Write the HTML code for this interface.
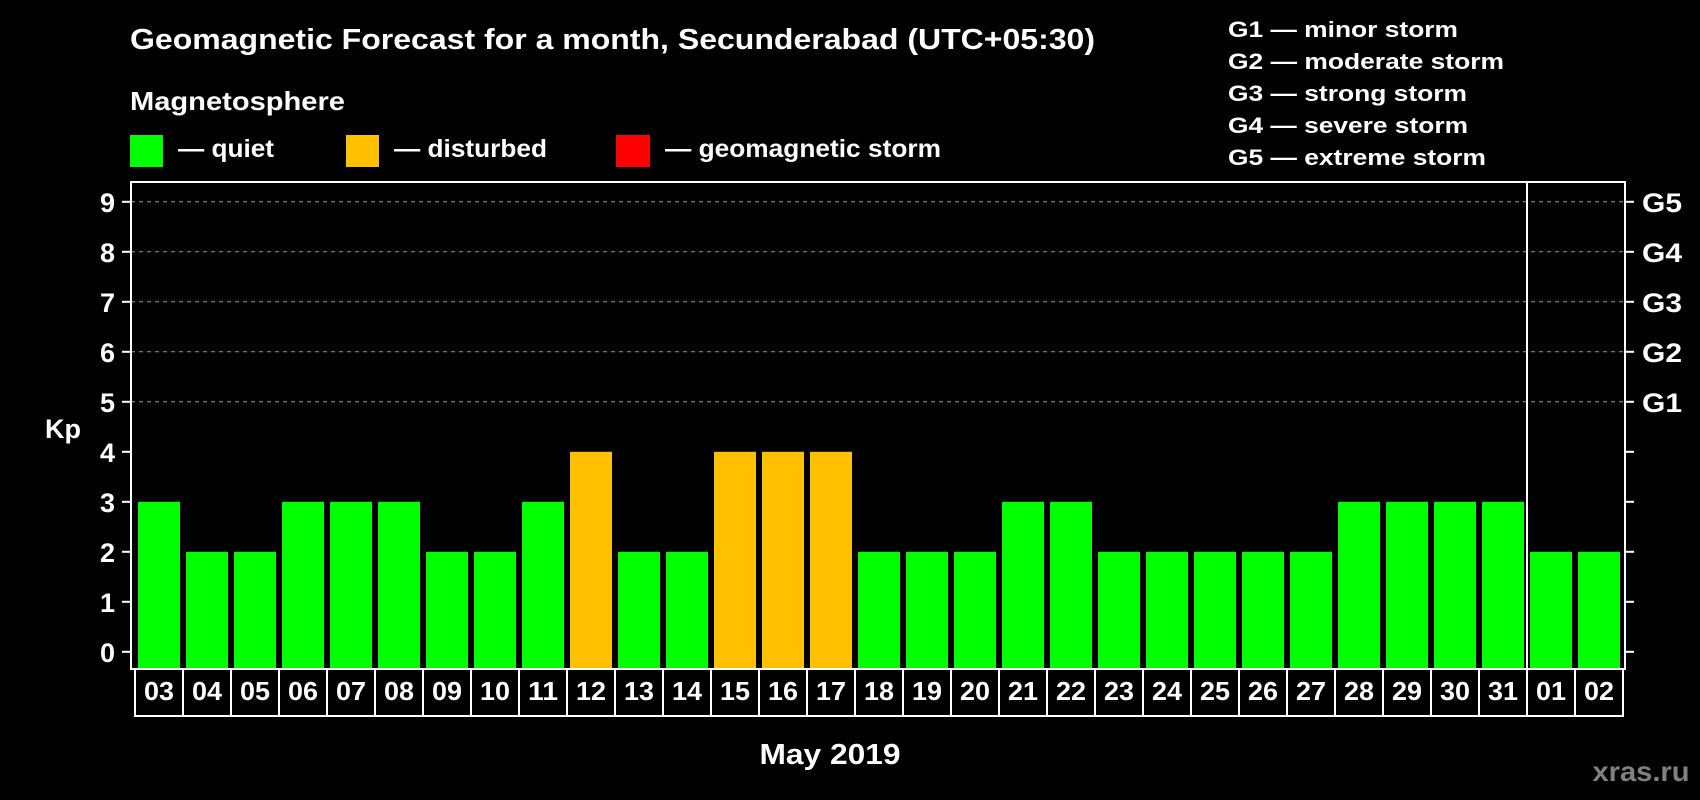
<!DOCTYPE html>
<html><head><meta charset="utf-8"><style>
html,body{margin:0;padding:0;background:#000;}
svg{display:block;font-family:"Liberation Sans",Arial,sans-serif;font-weight:bold;}
</style></head><body>
<svg id="chart" width="1700" height="800" viewBox="0 0 1700 800">
<rect x="0" y="0" width="1700" height="800" fill="#000"/>
<text x="130" y="49" fill="#fff" font-size="29" textLength="965" lengthAdjust="spacingAndGlyphs">Geomagnetic Forecast for a month, Secunderabad (UTC+05:30)</text>
<text x="130" y="110" fill="#fff" font-size="26" textLength="215" lengthAdjust="spacingAndGlyphs">Magnetosphere</text>
<g>
<rect x="130" y="135" width="33" height="32" fill="#00ff00"/>
<text x="178" y="157" fill="#fff" font-size="25" textLength="96" lengthAdjust="spacingAndGlyphs">— quiet</text>
</g>
<g>
<rect x="346" y="135" width="33" height="32" fill="#ffc000"/>
<text x="394" y="157" fill="#fff" font-size="25" textLength="153" lengthAdjust="spacingAndGlyphs">— disturbed</text>
</g>
<g>
<rect x="616" y="135" width="34" height="32" fill="#ff0000"/>
<text x="665" y="157" fill="#fff" font-size="25" textLength="276" lengthAdjust="spacingAndGlyphs">— geomagnetic storm</text>
</g>
<g>
<text x="1228" y="37" fill="#fff" font-size="22" textLength="230" lengthAdjust="spacingAndGlyphs">G1 — minor storm</text>
<text x="1228" y="69" fill="#fff" font-size="22" textLength="276" lengthAdjust="spacingAndGlyphs">G2 — moderate storm</text>
<text x="1228" y="101" fill="#fff" font-size="22" textLength="239" lengthAdjust="spacingAndGlyphs">G3 — strong storm</text>
<text x="1228" y="133" fill="#fff" font-size="22" textLength="240" lengthAdjust="spacingAndGlyphs">G4 — severe storm</text>
<text x="1228" y="165" fill="#fff" font-size="22" textLength="258" lengthAdjust="spacingAndGlyphs">G5 — extreme storm</text>
</g>
<g id="grid"></g>
<g id="bars"></g>
<g id="axes"></g>
<text x="63" y="438" fill="#fff" font-size="27" text-anchor="middle">Kp</text>
<text x="830" y="764" fill="#fff" font-size="29" text-anchor="middle" textLength="141" lengthAdjust="spacingAndGlyphs">May 2019</text>
<text x="1641" y="781" fill="#808080" font-size="28" text-anchor="middle" textLength="97" lengthAdjust="spacingAndGlyphs">xras.ru</text>
</svg>
<script>
const days = ["03","04","05","06","07","08","09","10","11","12","13","14","15","16","17","18","19","20","21","22","23","24","25","26","27","28","29","30","31","01","02"];
const kpValues = [3,2,2,3,3,3,2,2,3,4,2,2,4,4,4,2,2,2,3,3,2,2,2,2,2,3,3,3,3,2,2];
const yTicks = [0,1,2,3,4,5,6,7,8,9];
const gLabels = ["G1","G2","G3","G4","G5"];
const gLevels = [5,6,7,8,9];
const monthBreakIndex = 29;

const NS = "http://www.w3.org/2000/svg";
const plotL = 131, plotR = 1625, plotT = 182, plotB = 669;
const slot0 = 135, slotW = 48;
function yScale(v){ return 651.8 - v * 50; }
function xSlot(i){ return slot0 + i * slotW; }
function mk(tag, attrs, parent){
  const e = document.createElementNS(NS, tag);
  for (const k in attrs) e.setAttribute(k, attrs[k]);
  parent.appendChild(e);
  return e;
}
const grid = document.getElementById('grid');
const bars = document.getElementById('bars');
const axes = document.getElementById('axes');

gLevels.forEach((lv) => {
  const l = mk('line', {x1: plotL, x2: plotR, y1: yScale(lv), y2: yScale(lv), stroke: '#999', 'stroke-width': 1, 'stroke-dasharray': '4,4'}, grid);
  
  
});

kpValues.forEach((v, i) => {
  const color = v >= 5 ? '#ff0000' : (v >= 4 ? '#ffc000' : '#00ff00');
  const r = mk('rect', {x: xSlot(i) + 3, y: yScale(v), width: 42, height: plotB - 1 - yScale(v), fill: color}, bars);
  
  
});

const frame = mk('rect', {x: plotL, y: plotT, width: plotR - plotL, height: plotB - plotT, fill: 'none', stroke: '#fff', 'stroke-width': 2}, axes);


const div = mk('line', {x1: xSlot(monthBreakIndex), x2: xSlot(monthBreakIndex), y1: plotT, y2: plotB, stroke: '#fff', 'stroke-width': 2}, axes);



yTicks.forEach((t) => {
  const y = yScale(t);
  const tl = mk('line', {x1: 122, x2: plotL, y1: y, y2: y, stroke: '#fff', 'stroke-width': 2}, axes);
  
  
  const tr = mk('line', {x1: plotR, x2: plotR + 9, y1: y, y2: y, stroke: '#fff', 'stroke-width': 2}, axes);
  
  
  const lb = mk('text', {x: 115, y: y + 10, fill: '#fff', 'font-size': 27, 'text-anchor': 'end'}, axes);
  lb.textContent = String(t);
  
  
});

gLevels.forEach((lv, i) => {
  const g = mk('text', {x: 1642, y: yScale(lv) + 10, fill: '#fff', 'font-size': 27, textLength: 40, lengthAdjust: 'spacingAndGlyphs'}, axes);
  g.textContent = gLabels[i];
  
  
});

days.forEach((d, i) => {
  const b = mk('rect', {x: xSlot(i), y: plotB, width: slotW, height: 47, fill: 'none', stroke: '#fff', 'stroke-width': 2}, axes);
  
  
  const t = mk('text', {x: xSlot(i) + slotW / 2, y: 700, fill: '#fff', 'font-size': 26, 'text-anchor': 'middle', textLength: 30, lengthAdjust: 'spacingAndGlyphs'}, axes);
  t.textContent = d;
  
  
});
</script>
</body></html>
